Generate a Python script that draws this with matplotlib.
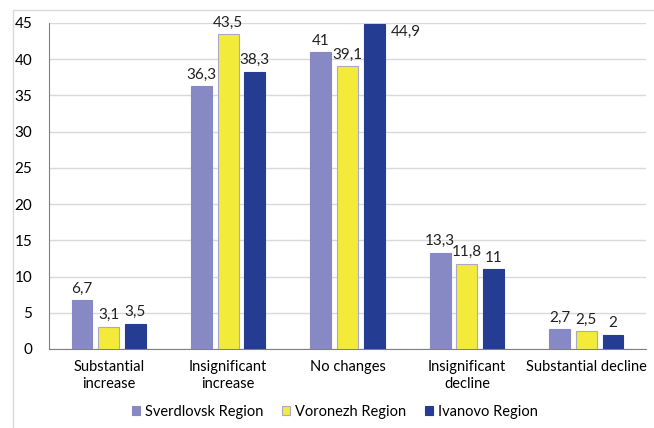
import matplotlib
matplotlib.use("Agg")
import matplotlib.pyplot as plt
from matplotlib.patches import Rectangle
import numpy as np

categories = ["Substantial\nincrease", "Insignificant\nincrease", "No changes",
              "Insignificant\ndecline", "Substantial decline"]
series_names = ["Sverdlovsk Region", "Voronezh Region", "Ivanovo Region"]
sverdlovsk = [6.7, 36.3, 41, 13.3, 2.7]
voronezh = [3.1, 43.5, 39.1, 11.8, 2.5]
ivanovo = [3.5, 38.3, 44.9, 11, 2]
yticks = [0, 5, 10, 15, 20, 25, 30, 35, 40, 45]

colors = ["#8689C3", "#F3EA3A", "#243C92"]
edges = ["#8689C3", "#A9A9C8", "#243C92"]

plt.rcParams['font.family'] = ['Lato', 'DejaVu Sans']

W, H = 654, 428
fig = plt.figure(figsize=(W / 100, H / 100), dpi=100)
fig.patches.append(Rectangle((13 / W, -0.1), 1.2, 1 - 10 / H + 0.1, transform=fig.transFigure,
                             fill=False, edgecolor="#D9D9D9", linewidth=1.0))
ax = fig.add_axes([49 / W, 1 - 349 / H, (646 - 49) / W, (349 - 23) / H])

x = np.arange(len(categories))
width = 0.175
offset = 0.224
data = [sverdlovsk, voronezh, ivanovo]
for i, (vals, name) in enumerate(zip(data, series_names)):
    bars = ax.bar(x + (i - 1) * offset, vals, width, color=colors[i], edgecolor=edges[i],
                  linewidth=0.8, label=name, zorder=3)
    for b, v in zip(bars, vals):
        lab = f"{v:g}".replace(".", ",")
        if v > 44:
            ax.text(b.get_x() + b.get_width() + 0.05, v - 1.1, lab,
                    ha="left", va="center", fontsize=11, color="#222222")
        else:
            ax.text(b.get_x() + b.get_width() / 2, v + 0.6, lab,
                    ha="center", va="bottom", fontsize=11, color="#222222")

ax.set_xlim(-0.5, len(categories) - 0.5)
ax.set_ylim(0, 45)
ax.set_yticks(yticks)
ax.set_yticklabels([str(t) for t in yticks], fontsize=11)
ax.set_xticks(x)
ax.set_xticklabels(categories, fontsize=10.5, linespacing=1.3)
ax.tick_params(axis="both", length=0, pad=8)
ax.tick_params(axis="y", pad=12)
ax.grid(axis="y", color="#D9D9D9", linewidth=1, zorder=0)
for s in ["top", "right"]:
    ax.spines[s].set_visible(False)
ax.spines["left"].set_color("#808080")
ax.spines["bottom"].set_color("#808080")

fig.legend(loc="center", bbox_to_anchor=(0.512, 1 - 412 / H), ncol=3, frameon=False,
           fontsize=10.5, handlelength=0.55, handleheight=0.55, handletextpad=0.35,
           columnspacing=1.3)

fig.savefig("out.png", dpi=100)
